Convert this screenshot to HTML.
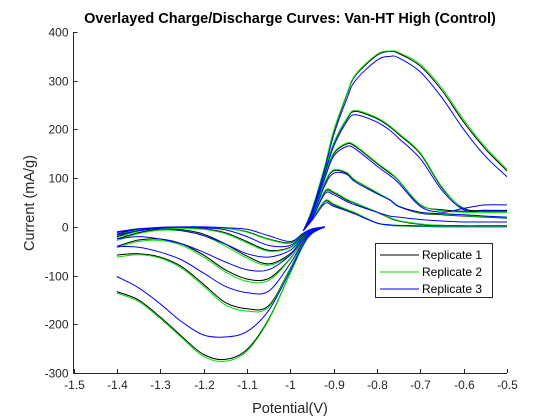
<!DOCTYPE html>
<html><head><meta charset="utf-8"><style>
body{margin:0;background:#fff;}
svg{display:block;font-family:"Liberation Sans",Arial,sans-serif;}
</style></head><body>
<svg id="chart" width="560" height="420" viewBox="0 0 560 420">
<rect width="560" height="420" fill="#fff"/>
<text x="290" y="23" text-anchor="middle" font-size="14.5" font-weight="bold" fill="#000">Overlayed Charge/Discharge Curves: Van-HT High (Control)</text>
<g id="plot"></g>
<g id="axes"></g>
<text x="290" y="413" text-anchor="middle" font-size="14.5" fill="#262626">Potential(V)</text>
<text transform="translate(34,203) rotate(-90)" text-anchor="middle" font-size="14.5" fill="#262626">Current (mA/g)</text>
<g>
<rect x="375.5" y="243.5" width="117" height="54" fill="#fff" stroke="#262626" stroke-width="1"/>
<line x1="380" y1="255" x2="419" y2="255" stroke="#000"/>
<text x="422" y="259" font-size="12" fill="#000">Replicate 1</text>
<line x1="380" y1="272" x2="419" y2="272" stroke="#00e000"/>
<text x="422" y="276" font-size="12" fill="#000">Replicate 2</text>
<line x1="380" y1="289" x2="419" y2="289" stroke="#0000ff"/>
<text x="422" y="293" font-size="12" fill="#000">Replicate 3</text>
</g>
</svg>
<script>
const xTicks=[-1.5,-1.4,-1.3,-1.2,-1.1,-1,-0.9,-0.8,-0.7,-0.6,-0.5];
const xTickLabels=["-1.5","-1.4","-1.3","-1.2","-1.1","-1","-0.9","-0.8","-0.7","-0.6","-0.5"];
const yTicks=[-300,-200,-100,0,100,200,300,400];
const lowerV=[-1.4,-1.35,-1.3,-1.25,-1.2,-1.15,-1.1,-1.05,-1.0,-0.97,-0.95,-0.92];
const upperV=[-0.97,-0.95,-0.92,-0.9,-0.87,-0.85,-0.8,-0.77,-0.75,-0.7,-0.65,-0.6,-0.55,-0.5];
const rep1Lower=[
[-15,-5,-2,-1,-1,-3,-10,-25,-33,-15,-5,0],
[-20,-8,-3,-2,-4,-12,-30,-48,-42,-18,-6,0],
[-25,-12,-5,-6,-15,-35,-60,-76,-55,-22,-8,0],
[-40,-27,-25,-35,-58,-88,-107,-106,-65,-28,-10,0],
[-58,-55,-62,-82,-118,-155,-168,-162,-85,-32,-12,0],
[-133,-150,-185,-225,-262,-272,-252,-190,-95,-38,-14,0]];
const rep1Upper=[
[-8,15,52,45,35,28,8,3,2,1,0,0,0,0],
[-8,18,72,70,55,48,30,18,12,5,3,2,2,2],
[-8,22,90,115,110,95,70,55,42,28,25,22,20,18],
[-8,28,105,150,170,165,130,110,95,45,35,32,32,32],
[-8,30,115,170,220,237,222,205,190,150,80,38,34,34],
[-8,35,125,195,270,310,352,360,356,330,280,215,160,115]];
const rep2Lower=[
[-17,-6,-2,-1,-1,-3,-11,-26,-34,-15,-5,0],
[-22,-9,-4,-3,-5,-14,-33,-50,-43,-18,-6,0],
[-28,-14,-7,-8,-18,-39,-64,-79,-57,-23,-8,0],
[-43,-30,-28,-38,-62,-92,-112,-110,-66,-28,-10,0],
[-62,-57,-64,-85,-122,-160,-173,-165,-86,-33,-12,0],
[-136,-153,-188,-228,-266,-276,-255,-192,-95,-38,-14,0]];
const rep2Upper=[
[-8,15,54,47,36,29,8,3,2,1,0,0,0,0],
[-8,18,74,72,57,49,31,19,13,6,3,2,2,2],
[-8,22,92,117,112,96,71,56,43,29,26,23,21,19],
[-8,28,106,152,172,167,132,112,96,46,33,30,30,30],
[-8,30,116,172,222,239,224,207,192,152,82,36,30,30],
[-8,35,126,197,272,312,354,361,358,334,285,220,164,118]];
const rep3Lower=[
[-10,-4,-1,0,0,-2,-5,-18,-30,-13,-4,0],
[-12,-5,-2,-1,-2,-6,-20,-38,-38,-16,-5,0],
[-17,-8,-4,-8,-18,-35,-55,-62,-48,-20,-7,0],
[-25,-20,-25,-35,-52,-72,-88,-88,-58,-25,-9,0],
[-40,-42,-52,-68,-95,-122,-135,-132,-75,-30,-11,0],
[-102,-125,-158,-195,-222,-226,-215,-172,-90,-36,-13,0]];
const rep3Upper=[
[-8,13,48,42,33,26,8,4,3,2,2,2,2,2],
[-8,16,68,66,52,45,30,22,20,15,12,10,10,10],
[-8,20,85,110,108,92,68,55,42,30,27,25,22,20],
[-8,26,100,145,165,160,125,105,90,42,30,38,45,45],
[-8,28,110,165,215,230,215,198,182,140,75,35,33,33],
[-8,32,120,188,262,300,342,350,347,318,265,200,145,103]];

const L=73.5,R=507,T=32,B=373;
const xMin=-1.5,xMax=-0.5,yMin=-300,yMax=400;
function sx(v){return L+(v-xMin)/(xMax-xMin)*(R-L);}
function sy(v){return B-(v-yMin)/(yMax-yMin)*(B-T);}
const NS="http://www.w3.org/2000/svg";
function smoothPath(xs,ys){
  const p=xs.map((x,i)=>[sx(x),sy(ys[i])]);
  let d="M"+p[0][0].toFixed(1)+","+p[0][1].toFixed(1);
  for(let i=0;i<p.length-1;i++){
    const p0=p[i-1]||p[i],p1=p[i],p2=p[i+1],p3=p[i+2]||p[i+1];
    const c1=[p1[0]+(p2[0]-p0[0])/6,p1[1]+(p2[1]-p0[1])/6];
    const c2=[p2[0]-(p3[0]-p1[0])/6,p2[1]-(p3[1]-p1[1])/6];
    d+="C"+c1[0].toFixed(1)+","+c1[1].toFixed(1)+" "+c2[0].toFixed(1)+","+c2[1].toFixed(1)+" "+p2[0].toFixed(1)+","+p2[1].toFixed(1);
  }
  return d;
}
const plot=document.getElementById('plot');
const reps=[[rep1Lower,rep1Upper,"#000000","replicate-1"],[rep2Lower,rep2Upper,"#00e000","replicate-2"],[rep3Lower,rep3Upper,"#0000ff","replicate-3"]];
reps.forEach(r=>{
  r[0].forEach((ys,i)=>{
    const el=document.createElementNS(NS,'path');
    el.setAttribute('d',smoothPath(lowerV,ys));
    el.setAttribute('fill','none');el.setAttribute('stroke',r[2]);el.setAttribute('stroke-width','1');
    
    
    plot.appendChild(el);
  });
  r[1].forEach((ys,i)=>{
    const el=document.createElementNS(NS,'path');
    el.setAttribute('d',smoothPath(upperV,ys));
    el.setAttribute('fill','none');el.setAttribute('stroke',r[2]);el.setAttribute('stroke-width','1');
    
    
    plot.appendChild(el);
  });
});
const ax=document.getElementById('axes');
function line(x1,y1,x2,y2){const l=document.createElementNS(NS,'line');l.setAttribute('x1',x1);l.setAttribute('y1',y1);l.setAttribute('x2',x2);l.setAttribute('y2',y2);l.setAttribute('stroke','#262626');l.setAttribute('stroke-width','1');ax.appendChild(l);return l;}
const xa=line(L,B+0.5,R,B+0.5);


const ya=line(L,T,L,B+0.5);


xTicks.forEach((v,i)=>{
  const x=Math.round(sx(v))+0.5;
  line(x,B,x,B-4);
  const t=document.createElementNS(NS,'text');
  t.setAttribute('x',x);t.setAttribute('y',B+16);t.setAttribute('text-anchor','middle');t.setAttribute('font-size','12');t.setAttribute('fill','#262626');
  t.textContent=xTickLabels[i];
  
  
  ax.appendChild(t);
});
yTicks.forEach(v=>{
  const y=Math.round(sy(v))+0.5;
  line(L,y,L+4,y);
  const t=document.createElementNS(NS,'text');
  t.setAttribute('x',L-5);t.setAttribute('y',y+4);t.setAttribute('text-anchor','end');t.setAttribute('font-size','12');t.setAttribute('fill','#262626');
  t.textContent=String(v);
  
  
  ax.appendChild(t);
});
</script>
</body></html>
